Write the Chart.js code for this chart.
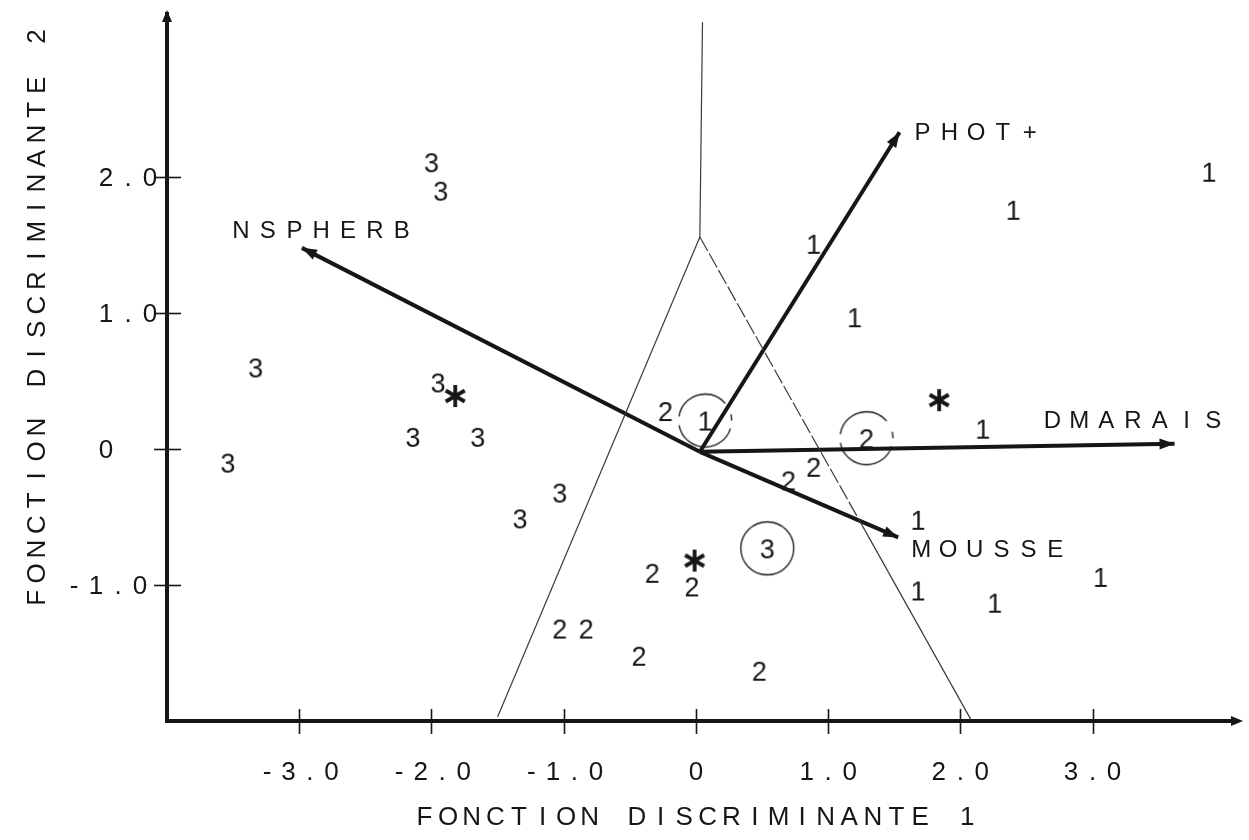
<!DOCTYPE html>
<html>
<head>
<meta charset="utf-8">
<title>Analyse discriminante</title>
<script src="https://cdn.jsdelivr.net/npm/chart.js@4/dist/chart.umd.min.js"></script>
<style>
  html, body { margin: 0; padding: 0; background: #ffffff; }
  #wrap { width: 1249px; height: 840px; }
</style>
</head>
<body>
<div id="wrap"><canvas id="chart" width="1249" height="840"></canvas></div>
<script>
// ---- scores of the sites on the two discriminant functions ----
const group1 = [[3.88, 2.04], [2.40, 1.76], [0.89, 1.51], [1.20, 0.97], [2.17, 0.15],
                [1.68, -0.52], [1.68, -1.04], [2.26, -1.13], [3.06, -0.94]];
const group2 = [[-0.23, 0.28], [0.70, -0.23], [0.89, -0.13], [-0.33, -0.91], [-0.03, -1.01],
                [-1.03, -1.32], [-0.83, -1.32], [-0.43, -1.52], [0.48, -1.63]];
const group3 = [[-2.00, 2.11], [-1.93, 1.90], [-3.33, 0.60], [-1.95, 0.49], [-2.14, 0.09],
                [-1.65, 0.09], [-3.54, -0.10], [-1.03, -0.32], [-1.33, -0.51]];

// group centroids (asterisks)
const centroids = [[1.84, 0.36], [-0.01, -0.82], [-1.82, 0.39]];

// circled group marks
const markLabels = ['1', '2', '3'];
const markPoints = [[0.07, 0.21], [1.29, 0.08], [0.54, -0.73]];
const markDashed = [true, true, false];

// structure vectors of the environmental variables
const vectorNames = ['NSPHERB', 'PHOT+', 'DMARAIS', 'MOUSSE'];
const vectorOrigin = [0.03, -0.02];
const vectorTips = [[-2.98, 1.48], [1.54, 2.33], [3.62, 0.04], [1.53, -0.65]];

// territorial map boundaries
const boundaryTop = [[0.05, 3.14], [0.03, 1.56]];
const boundaryLeft = [[0.03, 1.56], [-1.50, -1.97]];
const boundaryRight = [[0.03, 1.56], [1.28, -0.60], [2.08, -1.99]];

// axes
const xTickValues = [-3, -2, -1, 0, 1, 2, 3];
const xTickLabels = ['-3.0', '-2.0', '-1.0', '0', '1.0', '2.0', '3.0'];
const yTickValues = [-1, 0, 1, 2];
const yTickLabels = ['-1.0', '0', '1.0', '2.0'];
const xTitle = 'FONCTION DISCRIMINANTE 1';
const yTitle = 'FONCTION DISCRIMINANTE 2';

// ---- drawing helpers ----
const INK = '#161616';
const FONT = '"Liberation Sans", Arial, Helvetica, sans-serif';
const CAP = 0.716;

const toXY = pts => pts.map(([x, y]) => ({ x, y }));

function glyphCanvas(w, h, draw) {
  const c = document.createElement('canvas');
  c.width = w; c.height = h;
  draw(c.getContext('2d'), w, h);
  return c;
}

function digitStyle(ch) {
  return glyphCanvas(30, 34, (g, w, h) => {
    g.fillStyle = INK;
    g.font = `27px ${FONT}`;
    g.textAlign = 'center';
    g.textBaseline = 'alphabetic';
    g.fillText(ch, w / 2, h / 2 + CAP * 27 / 2);
  });
}

const starStyle = glyphCanvas(28, 28, (g, w, h) => {
  g.strokeStyle = INK;
  g.lineWidth = 3.8;
  g.translate(w / 2, h / 2);
  for (let k = 0; k < 3; k++) {
    const a = Math.PI / 2 + k * Math.PI / 3;
    g.beginPath();
    g.moveTo(-11 * Math.cos(a), -11 * Math.sin(a));
    g.lineTo(11 * Math.cos(a), 11 * Math.sin(a));
    g.stroke();
  }
});

function circledStyle(ch, dashed) {
  return glyphCanvas(62, 62, (g, w, h) => {
    g.strokeStyle = INK;
    g.lineWidth = 1.3;
    if (dashed) { g.setLineDash([70, 9, 60, 12]); g.lineDashOffset = -8; }
    g.beginPath();
    g.arc(w / 2, h / 2, 26.5, 0, Math.PI * 2);
    g.stroke();
    g.setLineDash([]);
    g.fillStyle = INK;
    g.font = `27px ${FONT}`;
    g.textAlign = 'center';
    g.fillText(ch, w / 2, h / 2 + CAP * 27 / 2);
  });
}

const markStyles = markLabels.map((l, i) => circledStyle(l, markDashed[i]));

// text set in fixed-pitch cells, like a pen plotter
function monoFrom(ctx, text, firstCenter, cy, pitch, size) {
  ctx.textAlign = 'center';
  ctx.textBaseline = 'alphabetic';
  [...text].forEach((ch, i) => {
    if (ch !== ' ') ctx.fillText(ch, firstCenter + i * pitch, cy + CAP * size / 2);
  });
}
function monoCentered(ctx, text, cx, cy, pitch, size) {
  monoFrom(ctx, text, cx - (text.length - 1) * pitch / 2, cy, pitch, size);
}

function fillHead(ctx, x, y, ang, len, half) {
  ctx.save();
  ctx.translate(x, y);
  ctx.rotate(ang);
  ctx.beginPath();
  ctx.moveTo(0, 0);
  ctx.lineTo(-len, -half);
  ctx.lineTo(-len, half);
  ctx.closePath();
  ctx.fill();
  ctx.restore();
}

// ---- datasets ----
const lineBase = { showLine: true, pointRadius: 0, pointHoverRadius: 0, fill: false, tension: 0 };

const datasets = [
  Object.assign({ data: toXY(boundaryTop), borderColor: '#3a3a3a', borderWidth: 1.2 }, lineBase),
  Object.assign({ data: toXY(boundaryLeft), borderColor: '#3a3a3a', borderWidth: 1.2 }, lineBase),
  Object.assign({
    data: toXY(boundaryRight), borderColor: '#3a3a3a', borderWidth: 1.2,
    segment: { borderDash: c => (c.p0DataIndex === 0 ? [16, 3] : []) }
  }, lineBase),
  ...vectorTips.map((tip, i) => Object.assign({
    label: vectorNames[i], vector: true,
    data: toXY([vectorOrigin, tip]), borderColor: INK, borderWidth: 4
  }, lineBase)),
  { label: '1', data: toXY(group1), pointStyle: digitStyle('1'), pointRadius: 10, showLine: false },
  { label: '2', data: toXY(group2), pointStyle: digitStyle('2'), pointRadius: 10, showLine: false },
  { label: '3', data: toXY(group3), pointStyle: digitStyle('3'), pointRadius: 10, showLine: false },
  { label: 'centroides', data: toXY(centroids), pointStyle: starStyle, pointRadius: 10, showLine: false },
  { label: 'groupes', data: toXY(markPoints), pointStyle: c => markStyles[c.dataIndex], pointRadius: 10, showLine: false }
];

// pixel offsets of each vector name from its arrow tip
const vectorLabelOffsets = { 'NSPHERB': [-61, -18], 'PHOT+': [23, -1], 'DMARAIS': [-122, -24], 'MOUSSE': [23, 11] };

const arrowHeads = {
  id: 'arrowHeads',
  afterDatasetsDraw(chart) {
    const ctx = chart.ctx;
    ctx.save();
    ctx.fillStyle = INK;
    ctx.font = `24px ${FONT}`;
    chart.data.datasets.forEach((ds, i) => {
      if (!ds.vector) return;
      const pts = chart.getDatasetMeta(i).data;
      const a = pts[0], b = pts[pts.length - 1];
      fillHead(ctx, b.x, b.y, Math.atan2(b.y - a.y, b.x - a.x), 15, 5.5);
      const off = vectorLabelOffsets[ds.label];
      monoFrom(ctx, ds.label, b.x + off[0], b.y + off[1], 26.8, 24);
    });
    ctx.restore();
  }
};

const axisDecor = {
  id: 'axisDecor',
  afterDraw(chart) {
    const { ctx, chartArea: ca, scales: { x, y } } = chart;
    ctx.save();
    ctx.strokeStyle = INK;
    ctx.fillStyle = INK;
    ctx.lineWidth = 1.6;
    // tick marks crossing the axes
    x.ticks.forEach(t => {
      const px = Math.round(x.getPixelForValue(t.value)) + 0.5;
      ctx.beginPath(); ctx.moveTo(px, ca.bottom - 12); ctx.lineTo(px, ca.bottom + 13); ctx.stroke();
    });
    y.ticks.forEach(t => {
      const py = Math.round(y.getPixelForValue(t.value)) + 0.5;
      ctx.beginPath(); ctx.moveTo(ca.left - 13, py); ctx.lineTo(ca.left + 14, py); ctx.stroke();
    });
    // axis arrowheads
    fillHead(ctx, ca.left, ca.top - 4, -Math.PI / 2, 12, 5);
    fillHead(ctx, ca.right + 5, ca.bottom, 0, 12, 5);
    // tick labels
    ctx.font = `26px ${FONT}`;
    x.ticks.forEach((t, i) => monoCentered(ctx, xTickLabels[i], x.getPixelForValue(t.value), ca.bottom + 50, 21.5, 26));
    y.ticks.forEach((t, i) => {
      const lab = yTickLabels[i];
      const first = ca.left - (lab.startsWith('-') ? 93 : 61);
      monoFrom(ctx, lab, first, y.getPixelForValue(t.value), 22, 26);
    });
    // axis titles
    ctx.font = `26px ${FONT}`;
    monoCentered(ctx, xTitle, x.getPixelForValue(0), ca.bottom + 95, 23.6, 26);
    ctx.translate(36, y.getPixelForValue(0.97));
    ctx.rotate(-Math.PI / 2);
    monoCentered(ctx, yTitle, 0, 0, 24.4, 26);
    ctx.restore();
  }
};

new Chart(document.getElementById('chart'), {
  type: 'scatter',
  data: { datasets },
  options: {
    responsive: false,
    animation: false,
    devicePixelRatio: 1,
    events: [],
    layout: { padding: { left: 167, right: 5, top: 14, bottom: 119 } },
    plugins: { legend: { display: false }, tooltip: { enabled: false } },
    scales: {
      x: {
        type: 'linear', min: -4, max: 4.1,
        afterBuildTicks: s => { s.ticks = xTickValues.map(v => ({ value: v })); },
        ticks: { display: false },
        grid: { drawOnChartArea: false, drawTicks: false },
        border: { display: true, width: 4, color: INK }
      },
      y: {
        type: 'linear', min: -2, max: 3.2,
        afterBuildTicks: s => { s.ticks = yTickValues.map(v => ({ value: v })); },
        ticks: { display: false },
        grid: { drawOnChartArea: false, drawTicks: false },
        border: { display: true, width: 4, color: INK }
      }
    }
  },
  plugins: [arrowHeads, axisDecor]
});
</script>
</body>
</html>
